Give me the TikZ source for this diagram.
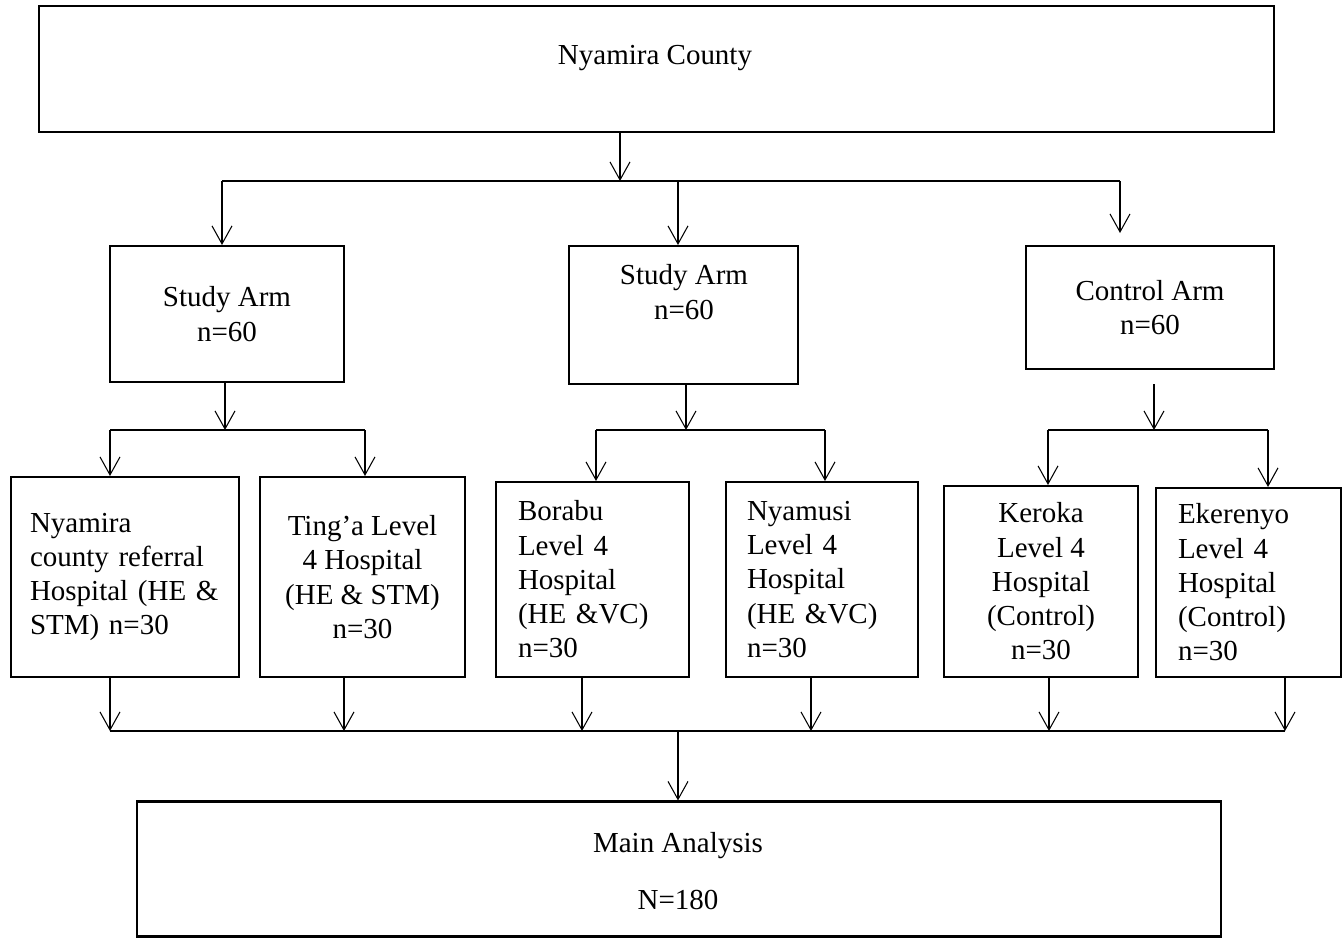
\documentclass[tikz,border=0pt]{standalone}
\usepackage{fontspec}
\setmainfont{Liberation Serif}
\usetikzlibrary{arrows.meta}

\tikzset{
    box/.style={draw, line width=1.2pt, inner sep=0pt, align=center},
    lbox/.style={box, align=left, inner xsep=#1, text width=\boxw-2*#1},
    link/.style={line width=0.6pt, -{Straight Barb[length=0.36cm, width=0.4cm]}},
    bar/.style={line width=0.6pt},
}
\newlength{\boxw}

\begin{document}
\begin{tikzpicture}[x=0.02cm, y=-0.02cm, font=\fontsize{16.5}{19.5}\selectfont]
    \useasboundingbox (0,0) rectangle (1342,937);

    % top
    \node (county) [box, minimum width=24.7cm, minimum height=2.52cm] at (656.5, 69) {};
    \node (countytxt) at (655, 58) {Nyamira County};

    % arms
    \node (arm1) [box, minimum width=4.68cm, minimum height=2.72cm] at (227, 314) {Study Arm\\n=60};
    \node (arm2) [box, minimum width=4.58cm, minimum height=2.76cm] at (683.5, 315) {};
    \node (arm2txt) [align=center] at (684, 292) {Study Arm\\n=60};
    \node (ctrl) [box, minimum width=4.96cm, minimum height=2.46cm] at (1150, 307.5) {Control Arm\\n=60};

    % hospitals
    \setlength{\boxw}{4.56cm}
    \node (nyamira) [lbox=0.38cm, minimum height=4cm] at (125, 577) {Nyamira\\county referral\\Hospital (HE \&\\STM) n=30};
    \node (tinga) [box, minimum width=4.1cm, minimum height=4cm] at (362.5, 577) {Ting’a Level\\4 Hospital\\(HE \& STM)\\n=30};
    \setlength{\boxw}{3.86cm}
    \node (borabu) [lbox=0.44cm, minimum height=3.9cm] at (592.5, 579.5) {Borabu\\Level 4\\Hospital\\(HE \&VC)\\n=30};
    \setlength{\boxw}{3.84cm}
    \node (nyamusi) [lbox=0.42cm, minimum height=3.9cm] at (822, 579.5) {Nyamusi\\Level 4\\Hospital\\(HE \&VC)\\n=30};
    \node (keroka) [box, minimum width=3.88cm, minimum height=3.82cm] at (1041, 581.5) {Keroka\\Level 4\\Hospital\\(Control)\\n=30};
    \setlength{\boxw}{3.7cm}
    \node (ekerenyo) [lbox=0.44cm, minimum height=3.78cm] at (1248.5, 582.5) {Ekerenyo\\Level 4\\Hospital\\(Control)\\n=30};

    % bottom
    \node (main) [box, minimum width=21.68cm, minimum height=2.7cm] at (679, 869) {};
    \node (maintxt) [align=center] at (678, 871) {Main Analysis\\[12.8pt]N=180};

    % county -> arms
    \coordinate (b0) at (620, 181);
    \coordinate (b1) at (222, 181);
    \coordinate (b2) at (678, 181);
    \coordinate (b3) at (1120, 181);
    \draw[link] (county.south -| b0) -- (b0);
    \draw[bar] (b1) -- (b3);
    \draw[link] (b1) -- (b1 |- arm1.north);
    \draw[link] (b2) -- (b2 |- arm2.north);
    \draw[link] (b3) -- ++(0, 52);

    % arms -> hospitals
    \coordinate (s1) at (225, 430);
    \coordinate (s2) at (686, 430);
    \coordinate (s3) at (1154, 430);
    \coordinate (h1) at (110, 430);
    \coordinate (h2) at (365, 430);
    \coordinate (h3) at (596, 430);
    \coordinate (h4) at (825, 430);
    \coordinate (h5) at (1048, 430);
    \coordinate (h6) at (1268, 430);
    \draw[link] (arm1.south -| s1) -- (s1);
    \draw[link] (arm2.south -| s2) -- (s2);
    \draw[link] (s3) ++(0, -46) -- (s3);
    \draw[bar] (h1) -- (h2);
    \draw[bar] (h3) -- (h4);
    \draw[bar] (h5) -- (h6);
    \draw[link] (h1) -- (h1 |- nyamira.north);
    \draw[link] (h2) -- (h2 |- tinga.north);
    \draw[link] (h3) -- (h3 |- borabu.north);
    \draw[link] (h4) -- (h4 |- nyamusi.north);
    \draw[link] (h5) -- (h5 |- keroka.north);
    \draw[link] (h6) -- (h6 |- ekerenyo.north);

    % hospitals -> analysis
    \coordinate (m1) at (110, 731);
    \coordinate (m2) at (344, 731);
    \coordinate (m3) at (582, 731);
    \coordinate (m4) at (811, 731);
    \coordinate (m5) at (1049, 731);
    \coordinate (m6) at (1285, 731);
    \coordinate (m0) at (678, 731);
    \foreach \h/\m in {nyamira/m1, tinga/m2, borabu/m3, nyamusi/m4, keroka/m5, ekerenyo/m6}
        \draw[link] (\h.south -| \m) -- (\m);
    \draw[bar] (m1) -- (m6);
    \draw[link] (m0) -- (m0 |- main.north);
\end{tikzpicture}
\end{document}
